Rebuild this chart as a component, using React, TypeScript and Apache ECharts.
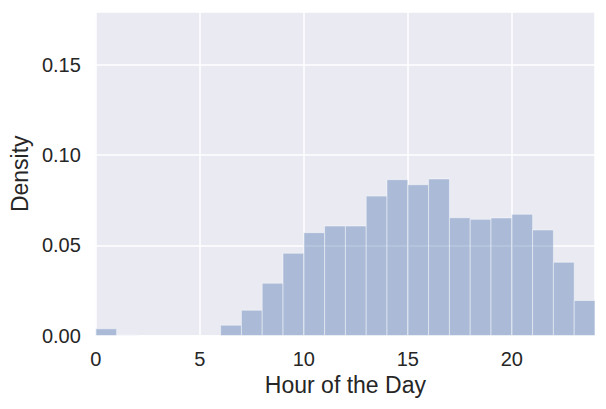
import React, { useEffect, useRef } from "react";
import * as echarts from "echarts";

// Histogram bins: left edge of each 1-hour bin
const binStarts = [0, 1, 2, 3, 4, 5, 6, 7, 8, 9, 10, 11, 12, 13, 14, 15, 16, 17, 18, 19, 20, 21, 22, 23];
// Density per bin
const densities = [
  0.0037, 0.0002, 0, 0, 0, 0, 0.0057, 0.014, 0.029, 0.0456, 0.057, 0.0607,
  0.0607, 0.0773, 0.0864, 0.0836, 0.0868, 0.0653, 0.0644, 0.0652, 0.0672, 0.0585, 0.0406, 0.0194,
];
const binWidth = 1;
const xTicks = [0, 5, 10, 15, 20];
const yTicks = [0, 0.05, 0.1, 0.15];

const FONT = "'Liberation Sans', Arial, sans-serif";
const TEXT = "#262626";

export default function App() {
  const ref = useRef<HTMLDivElement>(null);
  useEffect(() => {
    document.body.style.margin = "0";
    const chart = echarts.init(ref.current!, undefined, { renderer: "svg" });
    const data = binStarts.map((s, i) => [s, s + binWidth, densities[i]]);
    chart.setOption({
      animation: false,
      grid: {
        left: 95,
        right: 11,
        top: 12,
        bottom: 73.5,
        show: true,
        backgroundColor: "#EAEAF2",
        borderWidth: 0,
      },
      xAxis: {
        type: "value",
        min: 0,
        max: 24,
        interval: 5,
        name: "Hour of the Day",
        nameLocation: "middle",
        nameGap: 36,
        nameTextStyle: { fontFamily: FONT, fontSize: 23, color: TEXT },
        axisLine: { show: false },
        axisTick: { show: false },
        axisLabel: {
          fontFamily: FONT,
          fontSize: 20,
          color: TEXT,
          margin: 13,
          showMaxLabel: false,
          formatter: (v: number) => (xTicks.includes(v) ? String(v) : ""),
        },
        splitLine: { show: true, lineStyle: { color: "#ffffff", width: 1.5 } },
      },
      yAxis: {
        type: "value",
        min: 0,
        max: 0.1794,
        interval: 0.05,
        name: "Density",
        nameLocation: "middle",
        nameGap: 64,
        nameTextStyle: { fontFamily: FONT, fontSize: 23, color: TEXT },
        axisLine: { show: false },
        axisTick: { show: false },
        axisLabel: {
          fontFamily: FONT,
          fontSize: 20,
          color: TEXT,
          margin: 15,
          showMaxLabel: false,
          formatter: (v: number) =>
            yTicks.some((t) => Math.abs(t - v) < 1e-9) ? v.toFixed(2) : "",
        },
        splitLine: { show: true, lineStyle: { color: "#ffffff", width: 1.5 } },
      },
      series: [
        {
          type: "custom",
          data,
          encode: { x: [0, 1], y: 2 },
          renderItem: (params: any, api: any) => {
            const x0 = api.value(0);
            const x1 = api.value(1);
            const v = api.value(2);
            const p0 = api.coord([x0, v]);
            const p1 = api.coord([x1, 0]);
            return {
              type: "rect",
              shape: { x: p0[0], y: p0[1], width: p1[0] - p0[0], height: p1[1] - p0[1] },
              style: {
                fill: "rgba(76,114,176,0.4)",
                stroke: "rgba(255,255,255,0.45)",
                lineWidth: 1,
              },
            };
          },
        },
      ],
    });
    return () => chart.dispose();
  }, []);
  return <div ref={ref} style={{ width: 606, height: 409 }} />;
}
